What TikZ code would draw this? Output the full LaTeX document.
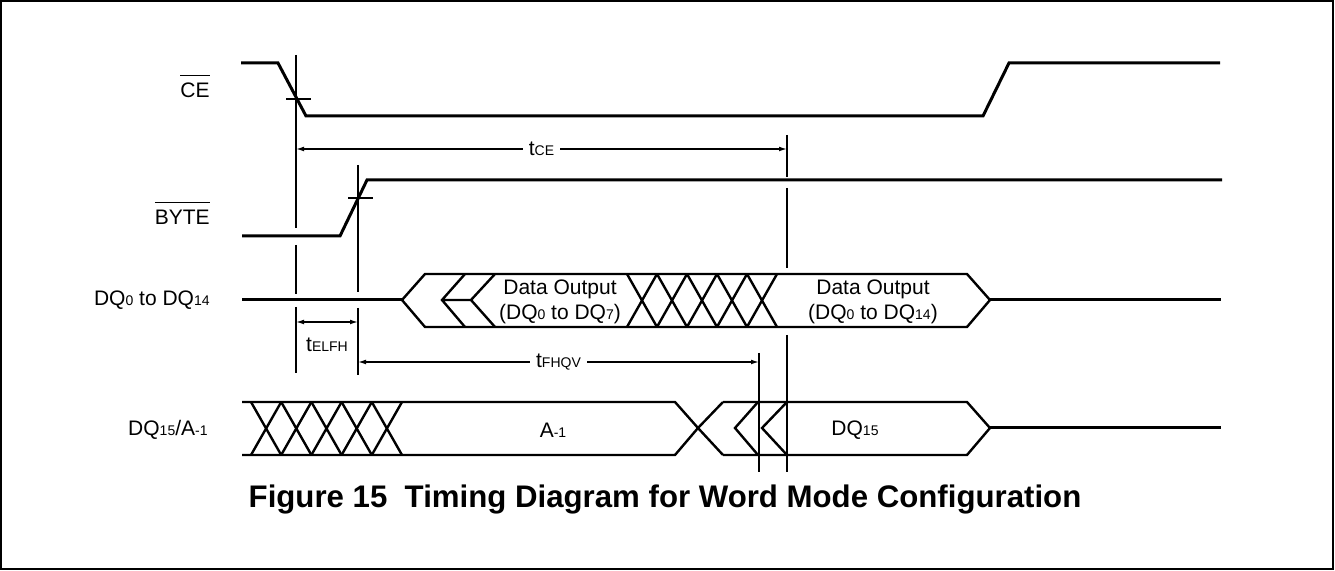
\documentclass[tikz,border=0pt]{standalone}
\usepackage{fontspec}
\setmainfont{Liberation Sans}
\usepackage{tikz}
\usetikzlibrary{arrows.meta}
\newcommand{\sbs}[1]{{\fontsize{7}{8}\selectfont #1}}
\newcommand{\ovl}[1]{$\overline{\rule{0pt}{9.6pt}\mbox{#1}}$}
\tikzset{
sig_l/.style = {line width=1.5pt},% signal level line
bus_l/.style = {line width=1.2pt},% bus outline and crossings
tim_l/.style = {line width=0.75pt},% timing reference line
dim_l/.style = {line width=0.65pt, {Latex[length=4pt,width=2.4pt]}-{Latex[length=4pt,width=2.4pt]}},% timing arrow
sig_name/.style = {anchor=east, inner sep=0pt, font=\fontsize{10.5}{12}\selectfont},% signal name at the left
bus_txt/.style = {align=center, inner sep=0pt, font=\fontsize{10.5}{12.5}\selectfont},% text inside a bus
dim_txt/.style = {fill=white, inner sep=3pt, font=\fontsize{10.5}{12}\selectfont}% timing parameter
}
\begin{document}
\begin{tikzpicture}[x=0.5pt, y=-0.5pt]
\useasboundingbox (0,0) rectangle (1335,571);
\draw[line width=0.8pt] (1,1) rectangle (1333,569);
% signal names
\node[sig_name] (n_ce) at (210,86) {\ovl{CE}};
\node[sig_name] (n_byte) at (210,213) {\ovl{BYTE}};
\node[sig_name] (n_dq) at (210,300) {DQ\sbs{0} to DQ\sbs{14}};
\node[sig_name] (n_dqa) at (208,430) {DQ\sbs{15}/A\sbs{-1}};
% levels
\draw[sig_l] (241,63) -- (278,63) -- (306,116) -- (983,116) -- (1009,63) -- (1220,63);
\draw[sig_l] (242,236) -- (340,236) -- (367,180) -- (1222,180);
\draw[sig_l] (242,300) -- (402,300);
\draw[sig_l] (990,300) -- (1221,300);
\draw[sig_l] (990,428) -- (1221,428);
% DQ0 to DQ14 bus
\draw[bus_l] (402,300) -- (425,274) -- (967,274) -- (990,300) -- (967,327) -- (425,327) -- cycle;
\draw[bus_l] (465,274) -- (442,300) -- (465,327) (442,300) -- (471,300);
\draw[bus_l] (495,274) -- (471,300) -- (495,327);
\foreach \i in {0,...,4}
  \draw[bus_l] ({627+30*\i},274) -- ({657+30*\i},327) ({627+30*\i},327) -- ({657+30*\i},274);
\node[bus_txt] (d_lo) at (560,302) {Data Output\\(DQ\sbs{0} to DQ\sbs{7})};
\node[bus_txt] (d_all) at (873,302) {Data Output\\(DQ\sbs{0} to DQ\sbs{14})};
% DQ15/A-1 bus
\draw[bus_l] (242,402) -- (675,402) -- (698,428) -- (675,455) -- (242,455);
\draw[bus_l] (723,402) -- (698,428) -- (723,455);
\draw[bus_l] (723,402) -- (967,402) -- (990,428) -- (967,455) -- (723,455);
\draw[bus_l] (758,402) -- (735,428) -- (758,455);
\draw[bus_l] (787,402) -- (762,428) -- (787,455);
\foreach \i in {0,...,4}
  \draw[bus_l] ({251+30.2*\i},402) -- ({281.2+30.2*\i},455) ({251+30.2*\i},455) -- ({281.2+30.2*\i},402);
\node[bus_txt] (a_m1) at (553,430) {A\sbs{-1}};
\node[bus_txt] (dq15) at (855,430) {DQ\sbs{15}};
% timing references
\coordinate (ce_f) at (296,99);
\coordinate (byte_r) at (358,198);
\coordinate (q_ok) at (787,149);
\coordinate (a_ok) at (759,362);
\draw[tim_l] ([xshift=-5pt]ce_f) -- ([xshift=7.5pt]ce_f);
\draw[tim_l] ([xshift=-5pt]byte_r) -- ([xshift=7.5pt]byte_r);
\draw[tim_l] (296,55) -- (296,228) (296,245) -- (296,294) (296,307) -- (296,373);
\draw[tim_l] (358,165) -- (358,292) (358,308) -- (358,375);
\draw[tim_l] (787,135) -- (787,177) (787,188) -- (787,268) (787,335) -- (787,472);
\draw[tim_l] (759,353) -- (759,472);
% timing arrows
\draw[dim_l] (296,149) -- (q_ok) node[midway, dim_txt] (t_ce) {t\sbs{CE}};
\draw[dim_l] (296,322) -- (358,322);
\node[inner sep=0pt, font=\fontsize{10.5}{12}\selectfont] (t_elfh) at (327,345) {t\sbs{ELFH}};
\draw[dim_l] (358,362) -- (a_ok) node[midway, dim_txt] (t_fhqv) {t\sbs{FHQV}};
% caption
\node[font=\bfseries\fontsize{15.6}{18}\selectfont] (cap) at (665,500) {Figure 15~~Timing Diagram for Word Mode Configuration};
\end{tikzpicture}
\end{document}
